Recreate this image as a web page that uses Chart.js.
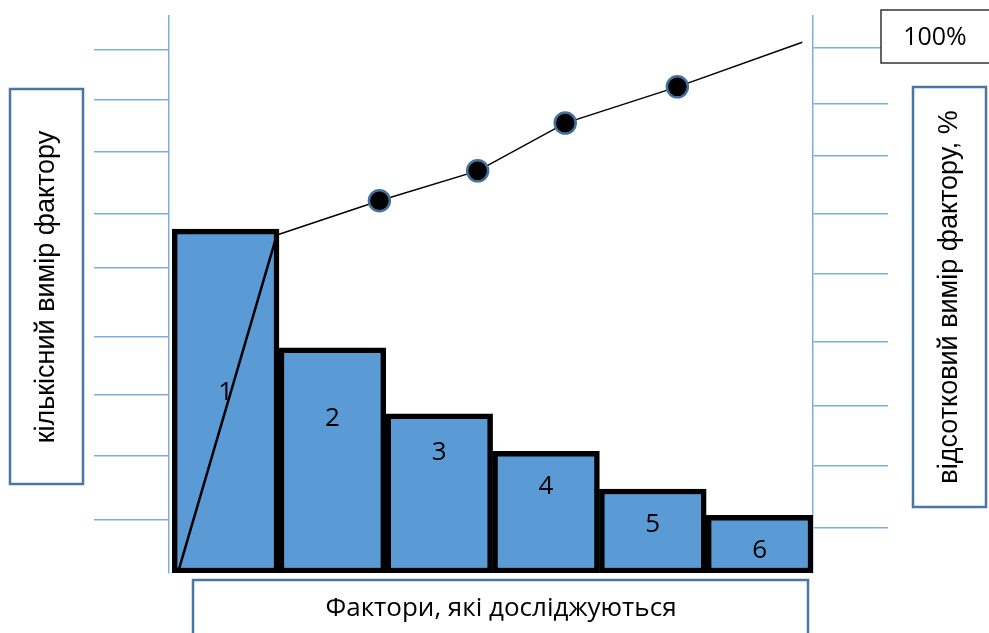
<!DOCTYPE html>
<html lang="uk">
<head>
<meta charset="utf-8">
<title>Діаграма Парето</title>
<script src="https://cdn.jsdelivr.net/npm/chart.js@4.4.1/dist/chart.umd.min.js"></script>
<style>
  html, body { margin: 0; padding: 0; background: #fff; }
  #wrap { position: relative; width: 989px; height: 633px; }
</style>
</head>
<body>
<div id="wrap"><canvas id="pareto"></canvas></div>
<script>
const factorLabels = ['1', '2', '3', '4', '5', '6'];
const factorPos = [0.5, 1.5, 2.5, 3.5, 4.5, 5.5];
const factorValues = [65.5, 42.9, 30.3, 23.2, 16.0, 11.0];

// Cumulative percentage line - hand drawn, points sit near the bar edges
const cumPos = [0.06, 0.98, 1.94, 2.86, 3.68, 4.73, 5.90];
const cumValues = [0.5, 64.4, 70.9, 76.6, 85.7, 92.6, 101.1];
const cumMarkers = [false, false, true, true, true, true, false];

// Tick marks on the two vertical axes
const leftTicks = [10.1, 22.3, 33.9, 45.0, 58.1, 68.4, 80.2, 90.1, 99.6];
const rightTicks = [8.6, 20.4, 31.8, 44.0, 57.0, 68.4, 79.4, 89.3, 100];

// Texts
const leftTitle = 'кількісний вимір фактору';
const rightTitle = 'відсотковий вимір фактору, %';
const bottomTitle = 'Фактори, які досліджуються';
const topMark = '100%';

const AXIS_BLUE = '#7EAEE0';
const BOX_BLUE = '#4A76A6';

function axisOptions(position, tickValues) {
    return {
        position: position,
        min: 0,
        max: 106.1,
        ticks: { display: false },
        grid: {
            drawOnChartArea: false,
            drawTicks: true,
            tickLength: 75,
            color: AXIS_BLUE,
            lineWidth: 1.5
        },
        border: { display: true, color: AXIS_BLUE, width: 1.5 },
        afterBuildTicks: function(axis) {
            axis.ticks = tickValues.map(v => ({ value: v }));
        }
    };
}

function strokeBox(ctx, x, y, w, h, color, width) {
    ctx.fillStyle = '#fff';
    ctx.fillRect(x, y, w, h);
    ctx.strokeStyle = color;
    ctx.lineWidth = width;
    ctx.strokeRect(x, y, w, h);
}

// Bar numbers and the caption boxes around the plot
const annotations = {
    id: 'annotations',
    afterDatasetsDraw(chart, args, opts) {
        const ctx = chart.ctx;
        const bars = chart.getDatasetMeta(0).data;
        const y = chart.scales.y;
        ctx.save();
        ctx.fillStyle = '#000';
        ctx.font = '26px "Open Sans"';
        ctx.textAlign = 'center';
        ctx.textBaseline = 'middle';
        bars.forEach((bar, i) => {
            ctx.fillText(factorLabels[i], bar.x, y.getPixelForValue(opts.labelAt[i]));
        });
        ctx.restore();
    },
    afterDraw(chart) {
        const ctx = chart.ctx;
        ctx.save();
        ctx.textAlign = 'center';
        ctx.textBaseline = 'middle';

        // left caption
        strokeBox(ctx, 10, 89, 73, 395, BOX_BLUE, 2.5);
        ctx.save();
        ctx.translate(47, 287);
        ctx.rotate(-Math.PI / 2);
        ctx.fillStyle = '#000';
        ctx.font = '27px "Liberation Sans", Arial, sans-serif';
        ctx.fillText(leftTitle, 0, 0);
        ctx.restore();

        // right caption
        strokeBox(ctx, 913, 87, 73, 420, BOX_BLUE, 2.5);
        ctx.save();
        ctx.translate(950, 297);
        ctx.rotate(-Math.PI / 2);
        ctx.fillStyle = '#000';
        ctx.font = '27px "Liberation Sans", Arial, sans-serif';
        ctx.fillText(rightTitle, 0, 0);
        ctx.restore();

        // bottom caption
        strokeBox(ctx, 193, 580, 615, 70, BOX_BLUE, 2.5);
        ctx.fillStyle = '#000';
        ctx.font = '26px "Open Sans"';
        ctx.fillText(bottomTitle, 501, 609);

        // 100% box
        strokeBox(ctx, 881, 10, 120, 53, '#333', 1.5);
        ctx.fillStyle = '#000';
        ctx.font = '25px "Open Sans"';
        ctx.fillText(topMark, 935, 38);

        ctx.restore();
    }
};

const ctx = document.getElementById('pareto').getContext('2d');
const paretoChart = new Chart(ctx, {
    type: 'bar',
    data: {
        datasets: [{
            type: 'bar',
            label: 'Фактори',
            data: factorPos.map((x, i) => ({ x: x, y: factorValues[i] })),
            backgroundColor: '#5B9BD5',
            borderColor: '#000',
            borderWidth: 5.5,
            borderSkipped: false,
            barPercentage: 1,
            categoryPercentage: 1,
            yAxisID: 'y',
            order: 1
        }, {
            type: 'line',
            label: 'Кумулятивний %',
            data: cumPos.map((x, i) => ({ x: x, y: cumValues[i] })),
            borderColor: '#000',
            borderWidth: 1.5,
            segment: {
                borderWidth: c => c.p0DataIndex === 0 ? 2.5 : 1.5
            },
            pointRadius: cumMarkers.map(m => m ? 10.5 : 0),
            pointBackgroundColor: '#000',
            pointBorderColor: '#41719C',
            pointBorderWidth: 2.5,
            tension: 0,
            fill: false,
            yAxisID: 'y2',
            order: 0
        }]
    },
    options: {
        responsive: true,
        maintainAspectRatio: false,
        animation: false,
        layout: {
            padding: { left: 94, right: 101, top: 16, bottom: 60 }
        },
        plugins: {
            legend: { display: false },
            tooltip: { enabled: false },
            annotations: {
                labelAt: [34.3, 29.5, 23.0, 16.4, 9.3, 4.2]
            }
        },
        scales: {
            x: {
                type: 'linear',
                min: -0.03,
                max: 6,
                offset: false,
                display: false
            },
            y: axisOptions('left', leftTicks),
            y2: axisOptions('right', rightTicks)
        }
    },
    plugins: [annotations]
});
</script>
</body>
</html>
